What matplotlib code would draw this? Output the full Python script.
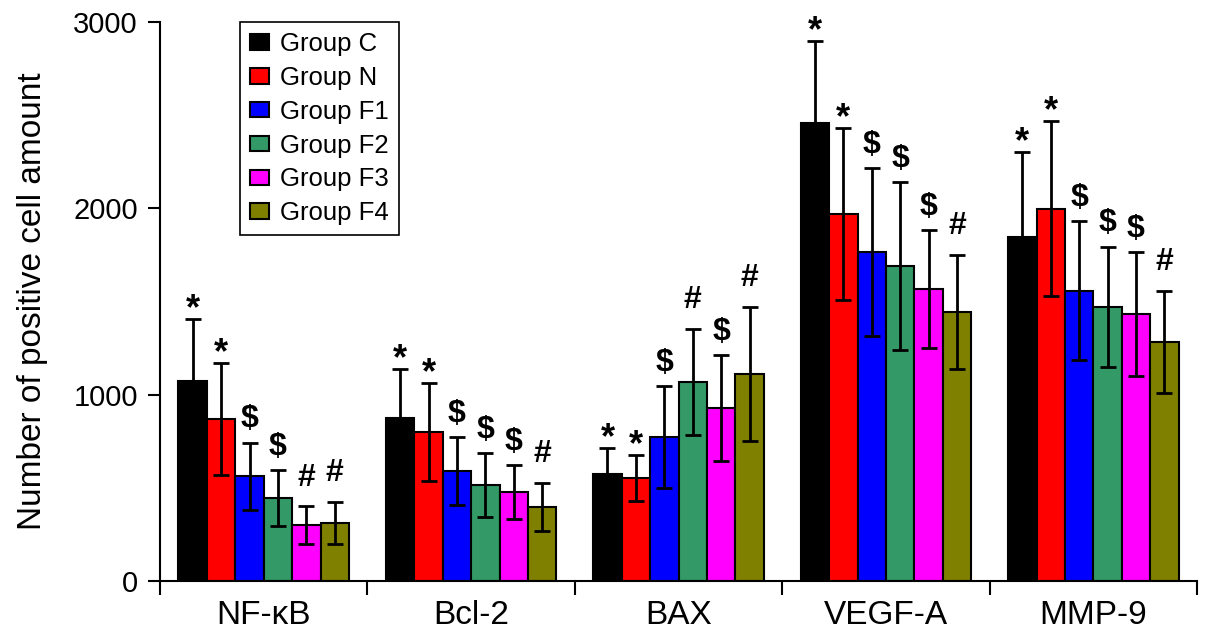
import matplotlib.pyplot as plt
import numpy as np

# 字体
plt.rcParams['font.family'] = ['Liberation Sans', 'DejaVu Sans']

# 数据
markers = ['NF-κB', 'Bcl-2', 'BAX', 'VEGF-A', 'MMP-9']
groups = ['Group C', 'Group N', 'Group F1', 'Group F2', 'Group F3', 'Group F4']
colors = ['#000000', '#ff0000', '#0000ff', '#339966', '#ff00ff', '#808000']

# 每组的均值 (按 markers 顺序)
group_c = [1073, 875, 574, 2458, 1847]
group_n = [869, 800, 553, 1970, 1997]
group_f1 = [563, 590, 773, 1766, 1558]
group_f2 = [445, 515, 1068, 1691, 1472]
group_f3 = [300, 478, 928, 1567, 1433]
group_f4 = [311, 397, 1111, 1444, 1283]

# 标准差
err_c = [333, 263, 140, 440, 455]
err_n = [300, 262, 123, 461, 470]
err_f1 = [180, 183, 274, 451, 374]
err_f2 = [150, 172, 287, 450, 322]
err_f3 = [100, 145, 285, 317, 333]
err_f4 = [115, 129, 360, 306, 275]

# 显著性标记
sig_c = ['*', '*', '*', '*', '*']
sig_n = ['*', '*', '*', '*', '*']
sig_f1 = ['$', '$', '$', '$', '$']
sig_f2 = ['$', '$', '#', '$', '$']
sig_f3 = ['#', '$', '$', '$', '$']
sig_f4 = ['#', '#', '#', '#', '#']

means = [group_c, group_n, group_f1, group_f2, group_f3, group_f4]
errs = [err_c, err_n, err_f1, err_f2, err_f3, err_f4]
sigs = [sig_c, sig_n, sig_f1, sig_f2, sig_f3, sig_f4]

# 标记符号的偏移 (points) 与字号
sig_offset = {'*': 0, '$': 11, '#': 15}
sig_size = {'*': 26, '$': 23, '#': 23}

fig = plt.figure(figsize=(12.05, 6.4), dpi=100)
ax = fig.add_axes([0.1328, 0.0922, 0.8606, 0.8734])

x = np.arange(len(markers))
width = 0.137

for j in range(len(groups)):
    pos = x + (j - 2.5) * width
    ax.bar(pos, means[j], width, color=colors[j], edgecolor='black',
           linewidth=1.5, label=groups[j], zorder=2)
    ax.errorbar(pos, means[j], yerr=errs[j], fmt='none', ecolor='black',
                elinewidth=2, capsize=6, capthick=2, zorder=3)
    for k in range(len(markers)):
        s = sigs[j][k]
        ax.annotate(s, (pos[k], means[j][k] + errs[j][k]),
                    xytext=(0, sig_offset[s]), textcoords='offset points',
                    ha='center', va='baseline', fontsize=sig_size[s],
                    fontweight='bold')

# 坐标轴
ax.set_xlim(-0.5, 4.5)
ax.set_ylim(0, 3000)
ax.set_yticks([0, 1000, 2000, 3000])
ax.tick_params(axis='y', labelsize=21, length=9, width=1.5, pad=7,
               direction='out')
ax.set_xticks(np.arange(-0.5, 5, 1))
ax.set_xticklabels([])
ax.set_xticks(x, minor=True)
ax.set_xticklabels(markers, minor=True, fontsize=24)
ax.tick_params(axis='x', which='major', length=10, width=1.5, direction='out')
ax.tick_params(axis='x', which='minor', length=0, pad=14)
ax.spines['top'].set_visible(False)
ax.spines['right'].set_visible(False)
ax.spines['left'].set_linewidth(1.5)
ax.spines['bottom'].set_linewidth(1.5)
ax.set_ylabel('Number of positive cell amount', fontsize=24, labelpad=18)

# 图例
leg = ax.legend(loc='upper left', bbox_to_anchor=(0.077, 1.0), borderaxespad=0,
                fontsize=18.5, frameon=True, fancybox=False, edgecolor='black',
                framealpha=1, handlelength=0.75, handleheight=0.55,
                handletextpad=0.4, labelspacing=0.38, borderpad=0.4)
leg.get_frame().set_linewidth(1.2)

plt.savefig('out.png', dpi=100)
plt.close()
